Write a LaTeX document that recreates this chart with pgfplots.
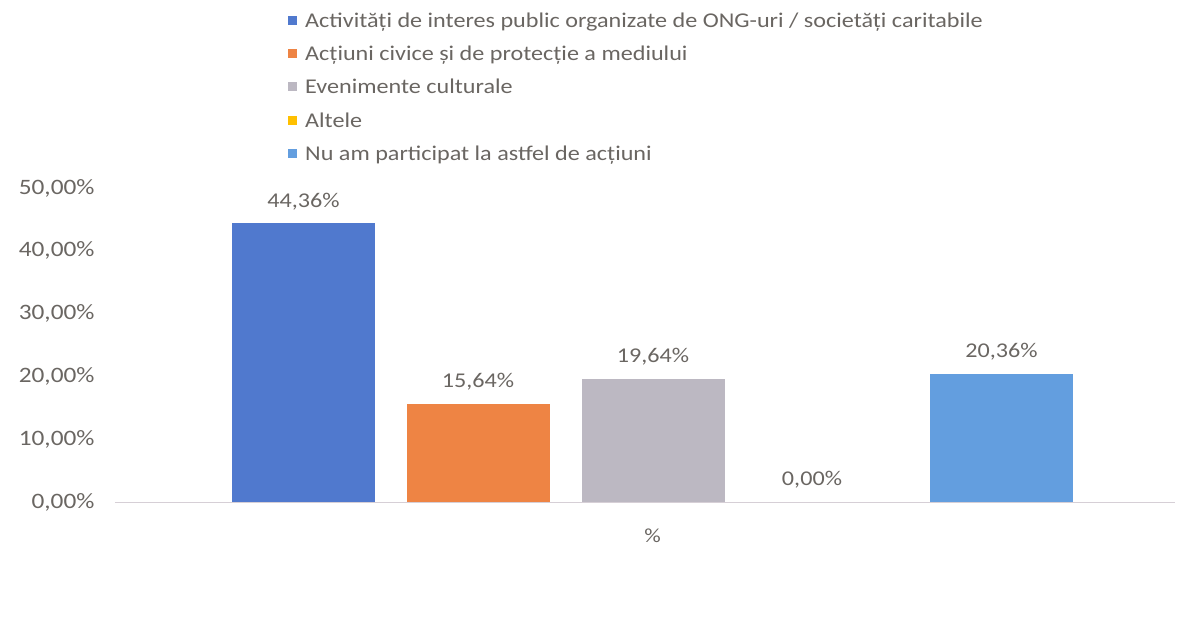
\documentclass[border=0pt]{standalone}
\usepackage{pgfplots}
\pgfplotsset{compat=1.18}
\usepackage{fontspec}
\setmainfont{Carlito}[FakeStretch=1.15]
\definecolor{c1}{HTML}{5079CE}
\definecolor{c2}{HTML}{EE8444}
\definecolor{c3}{HTML}{BCB8C2}
\definecolor{c4}{HTML}{FFC000}
\definecolor{c5}{HTML}{639EDF}
\definecolor{txt}{HTML}{6A6662}
\definecolor{base}{HTML}{D6CFD6}
\begin{document}
\begin{tikzpicture}
\path[use as bounding box] (-115pt,-120pt) rectangle (1088pt,502pt);
\begin{axis}[
  at={(0pt,0pt)}, anchor=south west,
  scale only axis, width=1060pt, height=314pt,
  xmin=115, xmax=1175, ymin=0, ymax=50,
  ybar, bar width=143pt,
  /pgf/number format/assume math mode=true,
  axis x line*=bottom, axis y line*=left,
  x axis line style={draw=base, line width=1pt},
  y axis line style={draw=none},
  major tick length=0pt,
  xtick={652.5}, xticklabels={\%},
  xticklabel style={font=\fontsize{20}{24}\selectfont, text=txt, yshift=-23pt},
  ytick={0,10,...,50},
  yticklabel={\pgfmathprintnumber[fixed,fixed zerofill,precision=2,use comma]{\tick}\%},
  yticklabel style={font=\fontsize{22}{26}\selectfont, text=txt, xshift=-17pt},
  nodes near coords={\pgfmathprintnumber[fixed,fixed zerofill,precision=2,use comma]{\pgfplotspointmeta}\%},
  every node near coord/.append style={font=\fontsize{21}{25}\selectfont, text=txt, yshift=10pt},
  legend style={at={(0.1604,1.57)}, anchor=north west, draw=none, fill=none,
    font=\fontsize{21}{24}\selectfont, text=txt, row sep=13pt,
    nodes={inner xsep=8pt}},
  legend cell align=left,
  sq/.style={legend image code/.code={\fill[##1] (0pt,-4pt) rectangle (9pt,5pt);}},
]
\addplot[fill=c1, draw=none, bar shift=0pt, sq] coordinates {(303.5,44.36)};
\addplot[fill=c2, draw=none, bar shift=0pt, sq] coordinates {(478,15.64)};
\addplot[fill=c3, draw=none, bar shift=0pt, sq] coordinates {(653,19.64)};
\addplot[fill=c4, fill opacity=0, text opacity=1, draw=none, bar shift=0pt, legend image code/.code={\fill[c4, fill opacity=1] (0pt,-4pt) rectangle (9pt,5pt);}] coordinates {(812,0)};
\addplot[fill=c5, draw=none, bar shift=0pt, sq] coordinates {(1001.5,20.36)};
\legend{Activități de interes public organizate de ONG-uri / societăți caritabile,
Acțiuni civice și de protecție a mediului,
Evenimente culturale,
Altele,
Nu am participat la astfel de acțiuni}
\end{axis}
\end{tikzpicture}
\end{document}
